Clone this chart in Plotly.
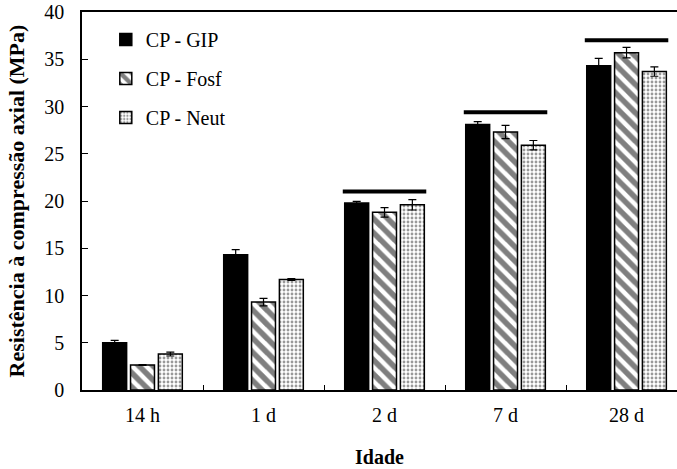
import plotly.graph_objects as go

categories = ["14 h", "1 d", "2 d", "7 d", "28 d"]
series_names = ["CP - GIP", "CP - Fosf", "CP - Neut"]
gip = [5.0, 14.3, 19.8, 28.1, 34.3]
fosf = [2.65, 9.3, 18.8, 27.3, 35.7]
neut = [3.8, 11.7, 19.6, 25.9, 33.7]
gip_err = [0.25, 0.55, 0.17, 0.3, 0.8]
fosf_err = [0.05, 0.4, 0.5, 0.7, 0.55]
neut_err = [0.2, 0.1, 0.55, 0.5, 0.5]
sig_levels = [None, None, 21.0, 29.4, 37.0]
y_ticks = [0, 5, 10, 15, 20, 25, 30, 35, 40]

FONT = "Liberation Serif"
BARGAP = 0.31

fig = go.Figure()
styles = [
    dict(color="black", pattern=None),
    dict(color="white", pattern=dict(shape="\\", size=10, solidity=0.55, fgcolor="black", bgcolor="white")),
    dict(color="white", pattern=dict(shape=".", size=4, solidity=0.4, fgcolor="#333", bgcolor="white")),
]
for i, (name, vals, errs) in enumerate(zip(series_names, [gip, fosf, neut], [gip_err, fosf_err, neut_err])):
    st = styles[i]
    marker = dict(color=st["color"], line=dict(color="black", width=1.5))
    if st["pattern"]:
        marker["pattern"] = st["pattern"]
    fig.add_trace(go.Bar(
        x=categories, y=vals, name=name, marker=marker,
        legendgroup=f"g{i}",
        error_y=dict(type="data", array=errs, color="black", thickness=1.2, width=4),
    ))

half = (1 - BARGAP) / 2
for idx, lvl in enumerate(sig_levels):
    if lvl is None:
        continue
    fig.add_shape(type="line", xref="x", yref="y",
                  x0=idx - half, x1=idx + half, y0=lvl, y1=lvl,
                  line=dict(color="black", width=4))

fig.update_layout(
    width=677, height=469,
    margin=dict(l=82, r=0, t=12, b=79),
    plot_bgcolor="white", paper_bgcolor="white",
    barmode="group", bargap=BARGAP, bargroupgap=0.14,
    font=dict(family=FONT, size=20, color="black"),
    legend=dict(x=0.04, y=0.979, xanchor="left", yanchor="top",
                traceorder="grouped", tracegroupgap=10,
                bgcolor="rgba(0,0,0,0)", font=dict(size=20, family=FONT)),
    showlegend=True,
)
fig.update_xaxes(
    type="category", range=[-0.5, 4.417], automargin=False,
    showline=True, linecolor="black", linewidth=1.5, mirror=True,
    ticks="inside", tickson="boundaries", ticklen=5, tickcolor="black",
    ticklabelstandoff=6,
    title=dict(text="<b>Idade</b>", font=dict(size=20, family=FONT), standoff=25),
    showgrid=False, zeroline=False,
)
fig.update_yaxes(
    range=[0, 40], tickvals=y_ticks, automargin=False,
    showline=True, linecolor="black", linewidth=1.5, mirror=False,
    ticks="inside", ticklen=6, tickcolor="black",
    ticklabelstandoff=12,
    title=dict(text="<b>Resistência à compressão axial (MPa)</b>", font=dict(size=22, family=FONT), standoff=14),
    showgrid=False, zeroline=False,
)
fig.write_html("out.html", config={"displayModeBar": False},
               post_script="document.body.style.margin='0';document.body.style.overflow='hidden';")
